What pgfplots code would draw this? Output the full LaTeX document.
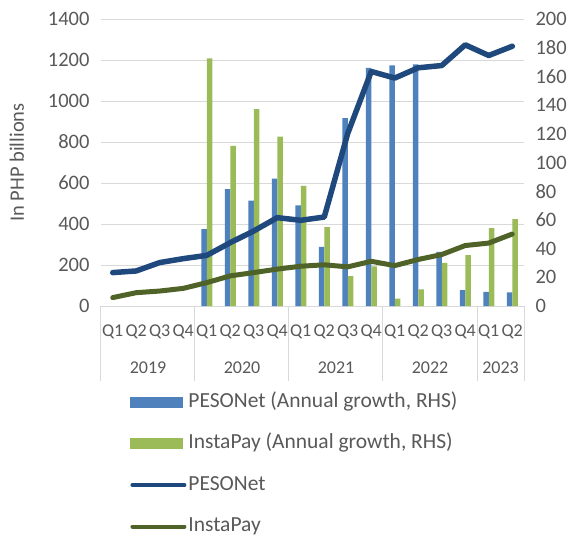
\documentclass[border=0pt]{standalone}
\usepackage{pgfplots}
\pgfplotsset{compat=1.18}
\usepackage{fontspec}
\setmainfont{Carlito}
\definecolor{pblue}{HTML}{4F81BD}
\definecolor{igreen}{HTML}{9BBB59}
\definecolor{pnavy}{HTML}{1F497D}
\definecolor{idark}{HTML}{4F6228}
\definecolor{txt}{HTML}{595959}
\definecolor{grd}{HTML}{D9D9D9}
\newcommand{\fs}{\fontsize{20.5}{24}\selectfont}
\newcommand{\fx}{\fontsize{18}{21}\selectfont}
\newcommand{\fl}{\fontsize{21.5}{25}\selectfont}
\begin{document}
\begin{tikzpicture}[font=\fs]
\useasboundingbox (-101pt,-233pt) rectangle (478pt,306pt);
\pgfplotsset{
  base/.style={scale only axis, width=423pt, height=287pt, xmin=-0.5, xmax=17.5,
    /pgf/number format/assume math mode=true,
    /pgf/number format/set thousands separator={},
    tick label style={font=\fs, text=txt},
    major tick length=0pt, axis line style={draw=none}, clip=false}
}
% Axis 1: grid, left ticks, category labels
\begin{axis}[base, ymin=0, ymax=1400, ytick={0,200,...,1400},
  ymajorgrids, grid style={grd, line width=1pt},
  yticklabel style={xshift=-8pt},
  xtick={0,...,17},
  xticklabels={Q1,Q2,Q3,Q4,Q1,Q2,Q3,Q4,Q1,Q2,Q3,Q4,Q1,Q2,Q3,Q4,Q1,Q2},
  xticklabel style={anchor=base, yshift=-30pt, font=\fx},
  ylabel={In PHP billions},
  y label style={at={(axis description cs:-0.199,0.5)}, anchor=center, text=txt, font=\fs}]
\addplot[draw=none] coordinates {(0,0)};
\draw[grd, line width=1pt] (axis cs:-0.5,0) -- ++(0pt,-75pt);
\draw[grd, line width=1pt] (axis cs:3.5,0) -- ++(0pt,-75pt);
\draw[grd, line width=1pt] (axis cs:7.5,0) -- ++(0pt,-75pt);
\draw[grd, line width=1pt] (axis cs:11.5,0) -- ++(0pt,-75pt);
\draw[grd, line width=1pt] (axis cs:15.5,0) -- ++(0pt,-75pt);
\draw[grd, line width=1pt] (axis cs:17.5,0) -- ++(0pt,-75pt);
\node[anchor=base, text=txt, font=\fx] at ([yshift=-67pt]axis cs:1.5,0) {2019};
\node[anchor=base, text=txt, font=\fx] at ([yshift=-67pt]axis cs:5.5,0) {2020};
\node[anchor=base, text=txt, font=\fx] at ([yshift=-67pt]axis cs:9.5,0) {2021};
\node[anchor=base, text=txt, font=\fx] at ([yshift=-67pt]axis cs:13.5,0) {2022};
\node[anchor=base, text=txt, font=\fx] at ([yshift=-67pt]axis cs:16.5,0) {2023};
\end{axis}
% Axis 2: bars on right axis
\begin{axis}[base, ymin=0, ymax=200, ytick={0,20,...,200},
  axis y line*=right, axis x line=none,
  yticklabel style={xshift=8pt},
  ybar=0pt, bar width=5.5pt]
\addplot[fill=pblue, draw=none] coordinates {
(4,53.5) (5,81.4) (6,73.5) (7,88.8) (8,70.1) (9,41.2) (10,130.9) (11,166)
(12,167.6) (13,168.3) (14,37.7) (15,11.1) (16,9.9) (17,9.5)};
\addplot[fill=igreen, draw=none] coordinates {
(4,172.6) (5,111.6) (6,137.2) (7,118.1) (8,83.7) (9,55.0) (10,20.8) (11,27.7)
(12,5.1) (13,11.6) (14,30.1) (15,35.4) (16,54.3) (17,60.6)};
\end{axis}
% Axis 3: lines on left axis, legend
\begin{axis}[base, ymin=0, ymax=1400, hide axis,
  legend style={at={(axis description cs:0.0686,-0.292)}, anchor=north west,
    draw=none, fill=none, inner sep=0pt, row sep=17.5pt,
    nodes={text=txt, inner sep=2pt, text height=15pt, text depth=5pt}, font=\fl},
  legend cell align=left]
\addlegendimage{legend image code/.code={\fill[pblue] (0pt,-5pt) rectangle (52pt,5pt);}}
\addlegendentry{PESONet (Annual growth, RHS)}
\addlegendimage{legend image code/.code={\fill[igreen] (0pt,-5pt) rectangle (52pt,5pt);}}
\addlegendentry{InstaPay (Annual growth, RHS)}
\addplot[pnavy, line width=5.5pt, line join=round, line cap=round,
  legend image code/.code={\draw[pnavy, line width=4pt, line cap=round] (2pt,0pt) -- (54pt,0pt);}]
coordinates {(0,163) (1,171) (2,212) (3,231) (4,247) (5,309) (6,366) (7,431) (8,418)
(9,434) (10,842) (11,1144) (12,1112) (13,1162) (14,1173) (15,1274) (16,1222) (17,1267)};
\addlegendentry{PESONet}
\addplot[idark, line width=5pt, line join=round, line cap=round,
  legend image code/.code={\draw[idark, line width=4pt, line cap=round] (2pt,0pt) -- (54pt,0pt);}]
coordinates {(0,41) (1,65) (2,73) (3,86) (4,114) (5,147) (6,163) (7,180) (8,194)
(9,201) (10,191) (11,218) (12,197) (13,227) (14,251) (15,295) (16,307) (17,351)};
\addlegendentry{InstaPay}
\end{axis}
\end{tikzpicture}
\end{document}
